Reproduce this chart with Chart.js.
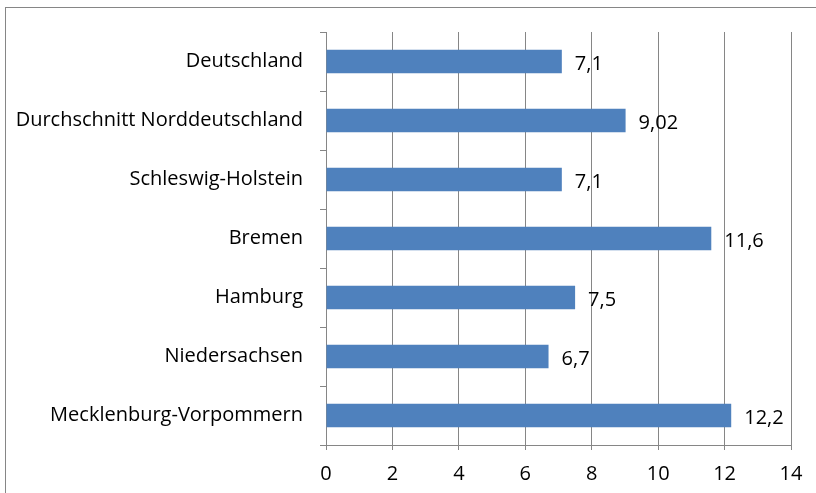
<!DOCTYPE html>
<html lang="de">
<head>
    <meta charset="UTF-8">
    <title>Balkendiagramm</title>
    <script src="https://cdn.jsdelivr.net/npm/chart.js"></script>
    <style>
        body { margin: 0; background: #fff; }
        #wrap { width: 816px; height: 493px; position: relative; }
    </style>
</head>
<body>
    <div id="wrap"><canvas id="chart" width="816" height="493"></canvas></div>

    <script>
        // Data, top to bottom
        const regions = ['Deutschland', 'Durchschnitt Norddeutschland', 'Schleswig-Holstein',
                         'Bremen', 'Hamburg', 'Niedersachsen', 'Mecklenburg-Vorpommern'];
        const values = [7.1, 9.02, 7.1, 11.6, 7.5, 6.7, 12.2];
        const valueLabels = ['7,1', '9,02', '7,1', '11,6', '7,5', '6,7', '12,2'];

        const axisGray = '#868686';
        const fontFamily = '"Open Sans", sans-serif';

        // frame around the whole picture
        const framePlugin = {
            id: 'frame',
            beforeDraw(chart) {
                const c = chart.ctx;
                c.save();
                c.strokeStyle = axisGray;
                c.lineWidth = 1;
                c.strokeRect(5.5, 7.5, 830, 500);
                c.restore();
            }
        };

        // value labels right of the bars
        const valuePlugin = {
            id: 'values',
            afterDatasetsDraw(chart) {
                const c = chart.ctx;
                const meta = chart.getDatasetMeta(0);
                c.save();
                c.font = '20px ' + fontFamily;
                c.fillStyle = '#000';
                c.textBaseline = 'middle';
                c.textAlign = 'left';
                meta.data.forEach((bar, i) => {
                    c.fillText(valueLabels[i], bar.x + 13, bar.y + 3);
                });
                c.restore();
            }
        };

        new Chart(document.getElementById('chart'), {
            type: 'bar',
            data: {
                labels: regions,
                datasets: [{
                    data: values,
                    backgroundColor: '#4F81BD',
                    borderWidth: 0,
                    barPercentage: 0.4,
                    categoryPercentage: 1
                }]
            },
            options: {
                indexAxis: 'y',
                responsive: false,
                animation: false,
                layout: { padding: { top: 32, right: 25, left: 0, bottom: 0 } },
                plugins: {
                    legend: { display: false },
                    tooltip: { enabled: false }
                },
                scales: {
                    x: {
                        min: 0,
                        max: 14,
                        ticks: { stepSize: 2, color: '#000', padding: 12, font: { family: fontFamily, size: 20 } },
                        grid: { color: axisGray, tickLength: 5, lineWidth: 1 },
                        border: { color: axisGray },
                        afterFit: s => { s.height = 48; }
                    },
                    y: {
                        ticks: { color: '#000', padding: 17, font: { family: fontFamily, size: 20 } },
                        grid: { drawOnChartArea: false, color: axisGray, tickLength: 6, offset: true },
                        border: { color: axisGray },
                        afterFit: s => { s.width = 326; }
                    }
                }
            },
            plugins: [framePlugin, valuePlugin]
        });
    </script>
</body>
</html>
